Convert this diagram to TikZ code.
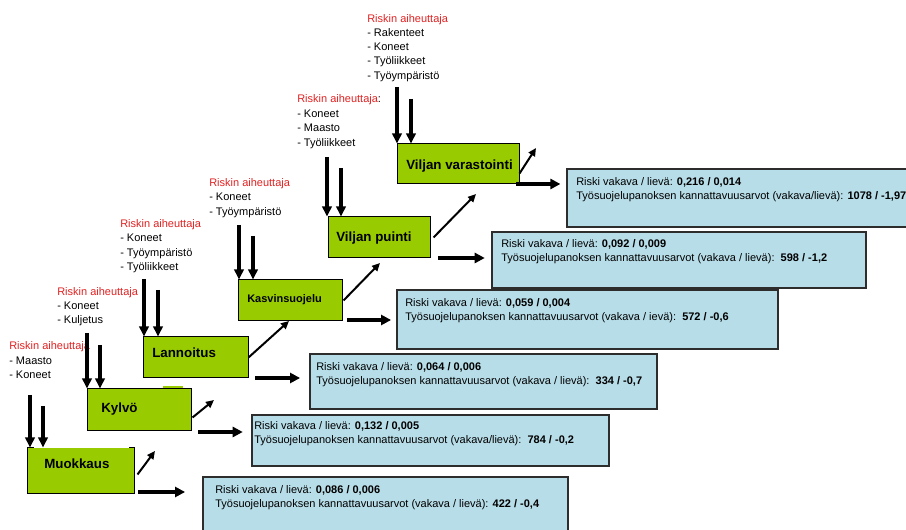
\documentclass[tikz,border=0pt]{standalone}
\usepackage{fontspec}
\setmainfont{Liberation Sans}
\usetikzlibrary{arrows.meta,fit,calc}
\definecolor{stagegreen}{RGB}{153,204,0}
\definecolor{resultblue}{RGB}{183,221,232}
\definecolor{riskred}{RGB}{225,35,35}
\definecolor{boxline}{RGB}{45,45,45}
\begin{document}
\begin{tikzpicture}[x=0.75pt,y=-0.75pt,
  stagebox/.style={fill=stagegreen,draw=black,line width=0.75pt,inner sep=0pt},
  resultbox/.style={fill=resultblue,draw=boxline,line width=0.9pt,inner sep=0pt},
  small/.style={font=\fontsize{8.25}{10}\selectfont,inner sep=0pt,anchor=base west},
  stagelabel/.style={font=\fontsize{10}{12}\selectfont\bfseries,inner sep=0pt,anchor=base west},
  cause/.style={small,text=riskred},
  inarrow/.style={line width=2.3pt,-{Triangle[length=7.5pt,width=7pt]}},
  outarrow/.style={line width=2.6pt,-{Triangle[length=7.5pt,width=7.5pt]}},
  nextarrow/.style={line width=1.5pt,-{Triangle[length=6pt,width=5.5pt]}}]

\fill[white] (0,0) rectangle (906,530);
\useasboundingbox (0,0) rectangle (906,530);

% result boxes (risk figures)
\node[resultbox, fit={(203,477) (568,536)}] (r1) {};
\node[resultbox, fit={(252,415) (609,466)}] (r2) {};
\node[resultbox, fit={(310,354) (657,409)}] (r3) {};
\node[resultbox, fit={(397,290) (778,349)}] (r4) {};
\node[resultbox, fit={(492,232) (866,288)}] (r5) {};
\node[resultbox, fit={(567,169) (916,227)}] (r6) {};

\node[small] (r1a) at (215,493) {Riski vakava / lievä: \textbf{0,086 / 0,006}};
\node[small] (r1b) at (215,507) {Työsuojelupanoksen kannattavuusarvot (vakava / lievä): \textbf{422 / -0,4}};
\node[small] (r2a) at (254,430) {Riski vakava / lievä: \textbf{0,132 / 0,005}};
\node[small] (r2b) at (254,444) {Työsuojelupanoksen kannattavuusarvot (vakava/lievä):\ \ \textbf{784 / -0,2}};
\node[small] (r3a) at (316,371) {Riski vakava / lievä: \textbf{0,064 / 0,006}};
\node[small] (r3b) at (316,385) {Työsuojelupanoksen kannattavuusarvot (vakava / lievä):\ \ \textbf{334 / -0,7}};
\node[small] (r4a) at (405,307) {Riski vakava / lievä: \textbf{0,059 / 0,004}};
\node[small] (r4b) at (405,321) {Työsuojelupanoksen kannattavuusarvot (vakava / ievä):\ \ \textbf{572 / -0,6}};
\node[small] (r5a) at (501,248) {Riski vakava / lievä: \textbf{0,092 / 0,009}};
\node[small] (r5b) at (501,262) {Työsuojelupanoksen kannattavuusarvot (vakava / lievä):\ \ \textbf{598 / -1,2}};
\node[small] (r6a) at (576,186) {Riski vakava / lievä: \textbf{0,216 / 0,014}};
\node[small] (r6b) at (576,200) {Työsuojelupanoksen kannattavuusarvot (vakava/lievä): \textbf{1078 / -1,97}};

% work stages
\node[stagebox, draw=none, fit={(28,448) (134,493)}] (muok) {};
\draw[line width=1.4pt] ([shift={(6,0)}]muok.north west) -- (muok.north west)
  -- (muok.south west) -- (muok.south east) -- (muok.north east) -- ([shift={(-6,0)}]muok.north east);
\fill[stagegreen] (163,386) rectangle (183,389);
\node[stagebox, fit={(87,389) (191,431)}] (kylvo) {};
\node[stagebox, fit={(143,337) (248,378)}] (lann) {};
\node[stagebox, fit={(238,280) (342,321)}] (kasv) {};
\node[stagebox, fit={(328,217) (430,258)}] (puin) {};
\node[stagebox, fit={(397,144) (519,184)}] (vara) {};

\node[stagelabel] (muokt) at (44,468) {Muokkaus};
\node[stagelabel] (kylvot) at (101,413) {Kylvö};
\node[stagelabel] (lannt) at (152,358) {Lannoitus};
\node[small, font=\fontsize{8.25}{10}\selectfont\bfseries] (kasvt) at (247,303) {Kasvinsuojelu};
\node[stagelabel] (puint) at (336,242) {Viljan puinti};
\node[stagelabel] (varat) at (406,170) {Viljan varastointi};

% risk causes
\node[cause] (c1) at (9,350) {Riskin aiheuttaja};
\node[small] (c1a) at (9,365) {- Maasto};
\node[small] (c1b) at (9,379) {- Koneet};

\node[cause] (c2) at (57,296) {Riskin aiheuttaja};
\node[small] (c2a) at (57,310) {- Koneet};
\node[small] (c2b) at (57,324) {- Kuljetus};

\node[cause] (c3) at (120,228) {Riskin aiheuttaja};
\node[small] (c3a) at (120,242) {- Koneet};
\node[small] (c3b) at (120,257) {- Työympäristö};
\node[small] (c3c) at (120,271) {- Työliikkeet};

\node[cause] (c4) at (209,187) {Riskin aiheuttaja};
\node[small] (c4a) at (209,201) {- Koneet};
\node[small] (c4b) at (209,216) {- Työympäristö};

\node[small] (c5) at (297,103) {\textcolor{riskred}{Riskin aiheuttaja}:};
\node[small] (c5a) at (297,118) {- Koneet};
\node[small] (c5b) at (297,132) {- Maasto};
\node[small] (c5c) at (297,147) {- Työliikkeet};

\node[cause] (c6) at (367,23) {Riskin aiheuttaja};
\node[small] (c6a) at (367,37) {- Rakenteet};
\node[small] (c6b) at (367,51) {- Koneet};
\node[small] (c6c) at (367,65) {- Työliikkeet};
\node[small] (c6d) at (367,80) {- Työympäristö};

% incoming risk arrows
\coordinate (i1a) at (30,395);  \coordinate (i1b) at (43,406);
\coordinate (i2a) at (87,333);  \coordinate (i2b) at (100,345);
\coordinate (i3a) at (144,279); \coordinate (i3b) at (158,290);
\coordinate (i4a) at (239,225); \coordinate (i4b) at (253,236);
\coordinate (i5a) at (327,157); \coordinate (i5b) at (341,168);
\coordinate (i6a) at (397,87);  \coordinate (i6b) at (411,99);
\foreach \s/\t in {i1a/muok,i1b/muok,i2a/kylvo,i2b/kylvo,i3a/lann,i3b/lann,
                   i4a/kasv,i4b/kasv,i5a/puin,i5b/puin,i6a/vara,i6b/vara}
  \draw[inarrow] (\s) -- (\s |- \t.north);

% arrows to the next stage
\coordinate (n1) at (155,451);
\coordinate (n2) at (214,400);
\coordinate (n3) at (289,321);
\coordinate (n4) at (380,263);
\coordinate (n5) at (476,194);
\coordinate (n6) at (536,148);
\draw[nextarrow] ([shift={(3,-19)}]muok.south east) -- (n1);
\draw[nextarrow] ([shift={(1,-14)}]kylvo.south east) -- (n2);
\draw[nextarrow] ([shift={(0,-21)}]lann.south east) -- (n3);
\draw[nextarrow] ([shift={(1,-21)}]kasv.south east) -- (n4);
\draw[nextarrow] ([shift={(3,-21)}]puin.south east) -- (n5);
\draw[nextarrow] ([shift={(0,-11)}]vara.south east) -- (n6);

% arrows to the result boxes
\coordinate (o1) at (138,492);
\coordinate (o2) at (198,432);
\coordinate (o3) at (255,378);
\coordinate (o4) at (347,320);
\coordinate (o5) at (438,258);
\coordinate (o6) at (516,184);
\draw[outarrow, shorten >=13pt] (o1) -- (o1 -| r1.west);
\draw[outarrow, shorten >=6.5pt] (o2) -- (o2 -| r2.west);
\draw[outarrow, shorten >=7pt] (o3) -- (o3 -| r3.west);
\draw[outarrow, shorten >=4pt] (o4) -- (o4 -| r4.west);
\draw[outarrow, shorten >=5pt] (o5) -- (o5 -| r5.west);
\draw[outarrow, shorten >=4.5pt] (o6) -- (o6 -| r6.west);
\end{tikzpicture}
\end{document}
